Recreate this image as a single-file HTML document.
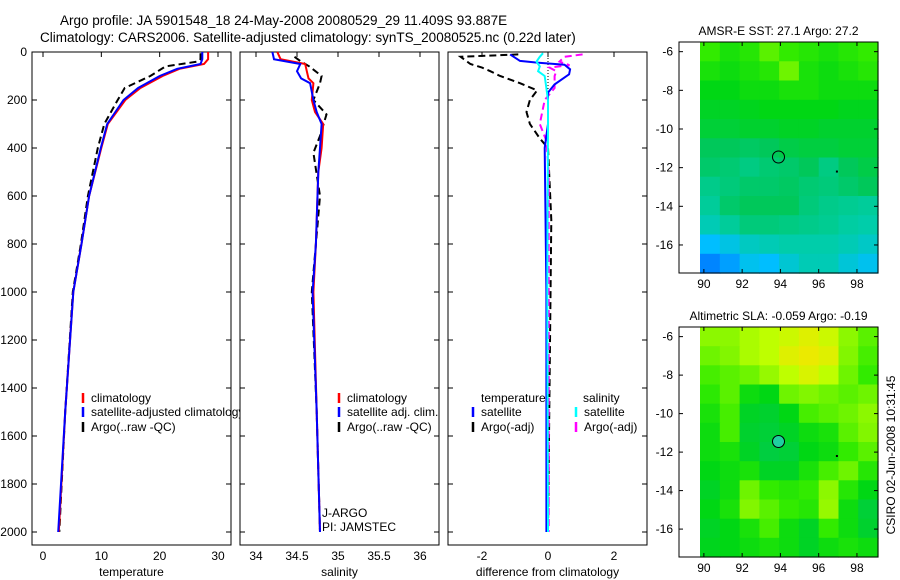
<!DOCTYPE html>
<html><head><meta charset="utf-8"><style>
body{margin:0;background:#fff}
svg{font-family:"Liberation Sans",sans-serif;display:block}
text{fill:#000}
</style></head><body>
<svg id="c" width="900" height="580" xmlns="http://www.w3.org/2000/svg">
<text x="60" y="25" font-size="13.5">Argo profile: JA 5901548_18 24-May-2008 20080529_29 11.409S 93.887E</text>
<text x="40" y="42" font-size="13.5">Climatology: CARS2006. Satellite-adjusted climatology: synTS_20080525.nc (0.22d later)</text>
</svg>
<script>
// ---- data ----
const depthTicks=[0,200,400,600,800,1000,1200,1400,1600,1800,2000];
const tempTicks=[0,10,20,30];
const salTicks=[34,34.5,35,35.5,36];
const salTickLabels=["34","34.5","35","35.5","36"];
const diffTicks=[-2,0,2];
const lonTicks=[90,92,94,96,98];
const latTicks=[-6,-8,-10,-12,-14,-16];

const tClimD=[0,30,50,70,100,150,200,300,400,600,800,1000,1500,2000];
const tClimV=[28.3,28.3,27.6,23.4,20.5,16.7,14.1,11.1,10,7.9,6.6,5.2,3.8,2.7];
const tSatV=[27.3,27.3,27.0,23.0,20.0,16.3,13.8,11.0,9.9,7.9,6.6,5.2,3.8,2.6];
const tArgoD=[5,30,40,60,100,150,200,300,400,600,800,1000,1500,2000];
const tArgoV=[27.0,27.0,26.5,21.0,18.4,14.0,12.8,10.5,9.4,7.7,6.5,5.1,3.8,2.8];

const sClimD=[0,30,50,80,110,130,200,250,300,400,500,800,1000,1500,2000];
const sClimV=[34.26,34.3,34.6,34.62,34.64,34.7,34.68,34.72,34.82,34.8,34.76,34.73,34.7,34.74,34.78];
const sSatV=[34.2,34.22,34.54,34.5,34.55,34.66,34.7,34.74,34.8,34.78,34.76,34.73,34.69,34.74,34.78];
const sArgoD=[20,40,60,100,130,200,260,350,420,600,1000,1500,2000];
const sArgoV=[34.47,34.55,34.65,34.8,34.78,34.7,34.86,34.78,34.7,34.78,34.68,34.74,34.78];

const dTSatD=[10,37,44,53,72,93,135,169,300,400,1000,2000];
const dTSatV=[-1.15,-0.85,-0.33,0.5,0.67,0.64,0.2,0,0,-0.1,-0.05,-0.05];
const dSSatD=[5,20,40,60,80,100,200,300,1000,2000];
const dSSatV=[-0.15,-0.25,-0.35,-0.25,-0.3,-0.1,0,0,-0.02,0];
const dTArgoD=[10,20,35,50,65,80,100,130,160,200,250,300,360,400,700,2000];
const dTArgoV=[-0.9,-2.65,-2.5,-2.35,-2.0,-1.75,-1.45,-0.85,-0.33,-0.55,-0.65,-0.55,-0.25,0,0.1,0];
const dSArgoD=[10,20,40,55,65,80,100,150,200,300,370,500,2000];
const dSArgoV=[1.05,0.5,0.35,0.65,0.05,0.25,0.2,0.2,-0.1,-0.25,-0.05,0.02,0.02];

const sstGrid=[
[.66,.62,.64,.7,.66,.64,.62,.64,.66],
[.62,.6,.62,.64,.72,.62,.6,.62,.64],
[.58,.58,.6,.6,.62,.62,.6,.6,.6],
[.56,.56,.57,.58,.58,.58,.58,.57,.57],
[.54,.54,.55,.55,.56,.56,.55,.55,.55],
[.5,.5,.49,.5,.52,.53,.53,.54,.54],
[.48,.47,.45,.47,.48,.5,.45,.5,.52],
[.44,.46,.48,.48,.49,.47,.46,.48,.5],
[.42,.48,.5,.5,.5,.46,.44,.43,.42],
[.38,.42,.46,.46,.45,.44,.43,.41,.4],
[.25,.3,.36,.38,.4,.4,.4,.38,.35],
[.12,.18,.28,.25,.33,.38,.38,.32,.28]];
const slaGrid=[
[.75,.75,.78,.8,.82,.85,.82,.75,.7],
[.72,.74,.78,.8,.85,.87,.85,.74,.68],
[.68,.7,.72,.76,.8,.84,.8,.72,.66],
[.65,.7,.6,.58,.72,.74,.72,.7,.72],
[.62,.68,.56,.55,.58,.68,.7,.72,.75],
[.6,.68,.55,.54,.56,.6,.62,.7,.74],
[.6,.62,.56,.53,.54,.58,.6,.66,.7],
[.58,.6,.62,.56,.56,.62,.68,.72,.64],
[.56,.6,.72,.66,.64,.66,.75,.64,.58],
[.58,.62,.74,.7,.66,.64,.76,.6,.54],
[.56,.58,.62,.68,.6,.56,.66,.6,.55],
[.57,.58,.6,.62,.6,.56,.6,.62,.6]];
const gridLon0=89.8, gridLon1=99.1, gridLat0=-5.5, gridLat1=-17.45;
const argoLon=93.9, argoLat=-11.45;

// ---- helpers ----
const svg=document.getElementById('c');
const NS='http://www.w3.org/2000/svg';
function mk(tag,at,parent){const e=document.createElementNS(NS,tag);for(const k in at)e.setAttribute(k,at[k]);(parent||svg).appendChild(e);return e;}
function lin(d0,d1,r0,r1){return v=>r0+(v-d0)*(r1-r0)/(d1-d0);}
const yD=lin(0,2000,52,532);
const PT=52,PB=545;

function panel(name,x0,x1,xs,ticks,labels,xlabel,showY){
  const g=mk('g',{});
  
  
  mk('rect',{x:x0,y:PT,width:x1-x0,height:PB-PT,fill:'#fff',stroke:'#000','stroke-width':1},g);
  depthTicks.forEach(d=>{const y=yD(d);
    mk('line',{x1:x0,x2:x0+5,y1:y,y2:y,stroke:'#000'},g);
    mk('line',{x1:x1-5,x2:x1,y1:y,y2:y,stroke:'#000'},g);
    if(showY){const t=mk('text',{x:x0-5,y:y+4,'font-size':12,'text-anchor':'end'},g);t.textContent=d;
      }
  });
  ticks.forEach((v,i)=>{const x=xs(v);
    mk('line',{x1:x,x2:x,y1:PT,y2:PT+5,stroke:'#000'},g);
    const t=mk('text',{x:x,y:560,'font-size':12,'text-anchor':'middle'},g);t.textContent=labels[i];
    
  });
  const t=mk('text',{x:(x0+x1)/2,y:576,'font-size':12,'text-anchor':'middle'},g);
  t.textContent=xlabel;
  
  return g;
}
function series(g,name,xs,D,V,color,dash,w){
  const pts=D.map((d,i)=>xs(V[i]).toFixed(1)+','+yD(d).toFixed(1)).join(' ');
  const p=mk('polyline',{points:pts,fill:'none',stroke:color,'stroke-width':w||2,'stroke-dasharray':dash||'none'},g);
  
  
}
function legend(g,x,y,color,label,name){
  mk('line',{x1:x,x2:x,y1:y-9,y2:y+1,stroke:color,'stroke-width':2.5},g);
  const t=mk('text',{x:x+8,y:y,'font-size':12},g);t.textContent=label;
  
}

// panel 1
const xT=lin(0,30,43,218);
const g1=panel('temperature-panel',32,231,xT,tempTicks,tempTicks.map(String),'temperature',true);
series(g1,'temp-argo-line',xT,tArgoD,tArgoV,'#000','7,4');
series(g1,'temp-climatology-line',xT,tClimD,tClimV,'#f00');
series(g1,'temp-satellite-line',xT,tClimD,tSatV,'#00f');
legend(g1,83,402,'#f00','climatology','legend-climatology');
legend(g1,83,416,'#00f','satellite-adjusted climatology','legend-satellite');
legend(g1,83,431,'#000','Argo(..raw -QC)','legend-argo');

// panel 2
const xS=lin(34,36,256,420);
const g2=panel('salinity-panel',240,439,xS,salTicks,salTickLabels,'salinity',false);
series(g2,'sal-argo-line',xS,sArgoD,sArgoV,'#000','7,4');
series(g2,'sal-climatology-line',xS,sClimD,sClimV,'#f00');
series(g2,'sal-satellite-line',xS,sClimD,sSatV,'#00f');
legend(g2,339,402,'#f00','climatology','legend-climatology');
legend(g2,339,416,'#00f','satellite adj. clim.','legend-satellite');
legend(g2,339,431,'#000','Argo(..raw -QC)','legend-argo');
let t=mk('text',{x:322,y:517,'font-size':12},g2);t.textContent='J-ARGO';

t=mk('text',{x:322,y:531,'font-size':12},g2);t.textContent='PI: JAMSTEC';


// panel 3
const xF=lin(-2,2,482,614);
const g3=panel('difference-panel',448,647,xF,diffTicks,diffTicks.map(String),'difference from climatology',false);
mk('line',{x1:xF(0),x2:xF(0),y1:PT,y2:yD(300),stroke:'#000','stroke-dasharray':'1,2'},g3);
series(g3,'diff-temp-argo-line',xF,dTArgoD,dTArgoV,'#000','7,4');
series(g3,'diff-sal-argo-line',xF,dSArgoD,dSArgoV,'#f0f','7,4');
series(g3,'diff-temp-satellite-line',xF,dTSatD,dTSatV,'#00f');
series(g3,'diff-sal-satellite-line',xF,dSSatD,dSSatV,'#0ff');
t=mk('text',{x:481,y:402,'font-size':12},g3);t.textContent='temperature';

t=mk('text',{x:583,y:402,'font-size':12},g3);t.textContent='salinity';

legend(g3,473,416,'#00f','satellite','legend-temp-satellite');
legend(g3,473,431,'#000','Argo(-adj)','legend-temp-argo');
legend(g3,576,416,'#0ff','satellite','legend-sal-satellite');
legend(g3,576,431,'#f0f','Argo(-adj)','legend-sal-argo');

// maps
const stops=[[0,[0,80,255]],[0.25,[0,190,255]],[0.4,[0,205,170]],[0.5,[0,200,90]],[0.58,[0,215,20]],[0.66,[50,235,0]],[0.8,[190,255,0]],[0.9,[255,225,0]],[1,[255,160,0]]];
function cmap(v){for(let i=1;i<stops.length;i++){if(v<=stops[i][0]){const a=stops[i-1],b=stops[i],f=(v-a[0])/(b[0]-a[0]);
  return 'rgb('+a[1].map((c,k)=>Math.round(c+f*(b[1][k]-c))).join(',')+')';}}return 'rgb(255,160,0)';}
function map(name,top,bot,grid,title,fillCircle){
  const g=mk('g',{});
  
  
  const L=679,R=878;
  const xL=lin(88.7,99.1,L,R);
  const yL=lin(-5.5,-17.45,top,bot);
  mk('rect',{x:L,y:top,width:R-L,height:bot-top,fill:'#fff'},g);
  const nr=grid.length,nc=grid[0].length;
  const dx=(gridLon1-gridLon0)/nc,dy=(gridLat1-gridLat0)/nr;
  grid.forEach((row,r)=>row.forEach((v,c)=>{
    const x=xL(gridLon0+c*dx),y=yL(gridLat0+r*dy);
    const cell=mk('rect',{x:x.toFixed(1),y:y.toFixed(1),width:(xL(gridLon0+(c+1)*dx)-x+0.6).toFixed(1),height:(yL(gridLat0+(r+1)*dy)-y+0.6).toFixed(1),fill:cmap(v)},g);
    
    
  }));
  mk('rect',{x:L,y:top,width:R-L,height:bot-top,fill:'none',stroke:'#000'},g);
  lonTicks.forEach(v=>{const x=xL(v);
    mk('line',{x1:x,x2:x,y1:top,y2:top+4,stroke:'#000'},g);
    mk('line',{x1:x,x2:x,y1:bot-4,y2:bot,stroke:'#000'},g);
    const t=mk('text',{x:x,y:bot+15,'font-size':12,'text-anchor':'middle'},g);t.textContent=v;
    });
  latTicks.forEach(v=>{const y=yL(v);
    mk('line',{x1:L,x2:L+4,y1:y,y2:y,stroke:'#000'},g);
    mk('line',{x1:R-4,x2:R,y1:y,y2:y,stroke:'#000'},g);
    const t=mk('text',{x:L-6,y:y+4,'font-size':12,'text-anchor':'end'},g);t.textContent=v;
    });
  const c=mk('circle',{cx:xL(argoLon),cy:yL(argoLat),r:6,fill:fillCircle||'none',stroke:'#000'},g);
  
  
  mk('rect',{x:xL(96.9),y:yL(-12.15),width:2,height:2,fill:'#000'},g);
  const tt=mk('text',{x:(L+R)/2,y:top-7,'font-size':12,'text-anchor':'middle'},g);tt.textContent=title;
  
}
map('sst-map',42,273,sstGrid,'AMSR-E SST: 27.1 Argo: 27.2');
map('sla-map',327,557,slaGrid,'Altimetric SLA: -0.059 Argo: -0.19','#1fd0a0');
t=mk('text',{x:0,y:0,'font-size':12,'text-anchor':'middle',transform:'translate(895,455) rotate(-90)'});
t.textContent='CSIRO 02-Jun-2008 10:31:45';


</script>
</body></html>
